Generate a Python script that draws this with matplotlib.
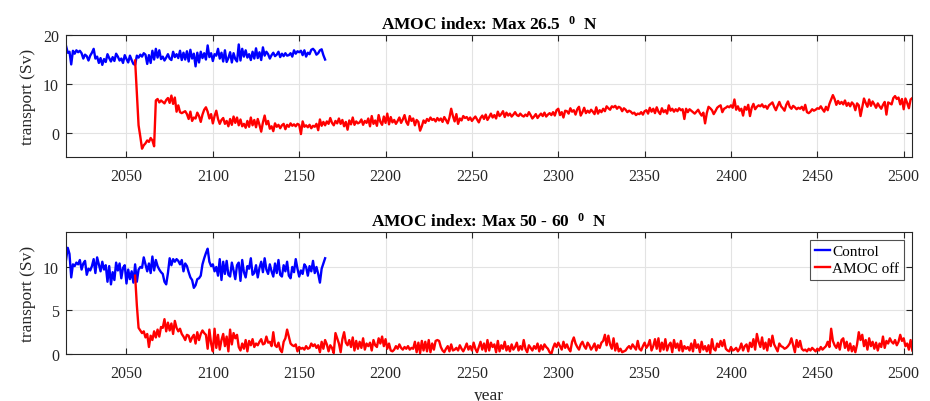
import numpy as np
import matplotlib
matplotlib.use('Agg')
import matplotlib.pyplot as plt

plt.rcParams['font.family'] = ['Liberation Serif', 'DejaVu Serif']
plt.rcParams['mathtext.default'] = 'regular'

# yearly values (Sv)
ctrl_start = 2015
off_start = 2055

ctrl_265 = [
    17.8, 16.4, 16.6, 14.0, 16.8, 16.2, 16.9, 16.5, 16.8, 16.3,
    15.2, 16.0, 15.7, 14.8, 15.8, 16.4, 17.2, 15.2, 15.6, 14.3,
    15.3, 13.9, 15.1, 14.5, 16.1, 15.3, 14.6, 15.5, 14.7, 16.2,
    15.6, 14.8, 15.2, 14.3, 15.9, 15.1, 14.4, 15.8, 14.9, 14.1,
    13.9, 15.8, 15.4, 16.0, 15.6, 16.3, 16.0, 14.1, 15.9, 14.3,
    16.8, 15.0, 17.2, 15.4, 16.9, 15.1, 15.6, 14.8, 15.4, 16.1,
    15.2, 14.9, 16.6, 15.5, 16.1, 15.3, 16.8, 14.9, 16.4, 15.0,
    16.7, 14.6, 17.0, 15.2, 16.2, 13.6, 16.4, 14.4, 16.6, 15.3,
    16.3, 15.0, 17.9, 15.5, 16.3, 14.7, 16.1, 15.8, 17.2, 15.2,
    16.4, 14.6, 16.9, 14.5, 15.3, 16.5, 14.4, 16.3, 15.1, 14.6,
    18.1, 14.8, 17.2, 15.6, 16.9, 15.4, 16.1, 14.9, 16.6, 15.2,
    17.3, 15.3, 16.5, 14.9, 17.5, 15.8, 16.6, 16.1, 15.2, 15.9,
    16.4, 15.7, 16.0, 16.6, 15.5, 16.2, 15.7, 16.3, 15.8, 15.9,
    16.3, 15.6, 16.9, 16.2, 16.7, 16.5, 16.8, 15.9, 16.9, 15.6,
    16.4, 16.1, 17.0, 17.2, 16.8, 16.0, 16.3, 16.9, 17.1, 15.9, 15.0,
]

off_265 = [
    14.8, 8.0, 1.5, -0.8, -3.3, -2.6, -2.2, -1.6, -1.9, -1.1,
    -1.6, -2.8, 6.6, 6.9, 6.2, 6.6, 6.3, 6.0, 6.7, 7.1,
    6.1, 7.6, 5.9, 7.2, 4.3, 5.6, 4.2, 4.0, 4.2, 4.4,
    3.8, 2.8, 4.3, 2.4, 3.1, 2.9, 4.1, 3.4, 2.2, 3.7,
    4.7, 5.2, 4.3, 2.9, 3.8, 1.9, 3.4, 4.5, 2.8, 1.8,
    2.6, 3.0, 1.8, 2.4, 1.3, 2.8, 1.6, 3.3, 2.0, 3.1,
    1.5, 2.7, 1.3, 1.8, 1.0, 2.4, 1.2, 3.1, 1.5, 2.6,
    1.1, 2.8, 1.6, 0.2, 2.1, 3.5, 1.7, 2.4, 0.8, 1.3,
    0.3, 1.9, 1.2, 1.6, 0.9, 1.5, 1.8, 0.7, 1.6, 1.2,
    1.9, 1.4, 1.7, 1.3, 1.8, 1.6, -0.3, 2.3, 1.2, 1.5,
    1.1, 1.6, 0.9, 1.4, 1.2, 1.8, 0.5, 2.7, 1.4, 2.2,
    1.5, 2.3, 1.8, 3.0, 2.0, 1.5, 2.4, 1.9, 2.9, 1.8,
    2.6, 1.3, 2.2, 0.6, 2.5, 1.7, 3.1, 1.6, 2.3, 1.9,
    2.1, 2.7, 1.6, 2.4, 2.0, 2.9, 1.3, 3.4, 1.8, 2.5,
    1.4, 3.6, 2.2, 1.6, 3.3, 2.0, 3.9, 1.7, 3.2, 2.1,
    2.6, 1.8, 2.4, 3.1, 2.0, 2.7, 3.6, 2.2, 1.6, 3.4,
    2.4, 2.9, 1.5, 2.6, 2.2, 0.4, 1.3, 2.5, 2.0, 2.8,
    2.4, 3.1, 2.6, 2.8, 2.3, 3.0, 2.5, 2.9, 2.2, 3.2,
    2.6, 1.9, 3.1, 4.9, 3.4, 2.3, 3.8, 1.8, 2.9, 2.5,
    3.4, 3.0, 3.2, 2.6, 3.1, 2.4, 2.9, 3.3, 2.7, 2.1,
    3.0, 3.5, 2.8, 3.7, 2.6, 3.2, 3.9, 3.1, 3.6, 2.9,
    4.3, 3.4, 3.8, 4.4, 3.2, 4.1, 3.5, 3.9, 3.3, 3.7,
    4.2, 3.6, 3.4, 3.9, 3.5, 3.3, 3.7, 3.4, 4.2, 3.6,
    2.9, 3.3, 3.8, 3.0, 3.5, 3.9, 3.4, 4.1, 3.3, 3.7,
    4.0, 3.6, 4.2, 3.5, 4.6, 4.9, 3.6, 4.2, 3.1, 4.5,
    4.4, 3.9, 5.0, 4.3, 4.6, 3.7, 4.8, 5.3, 3.5, 4.2,
    5.1, 4.0, 4.5, 4.1, 4.7, 4.3, 3.8, 5.2, 3.9, 4.6,
    4.2, 4.9, 4.4, 5.4, 5.0, 4.7, 5.4, 5.2, 5.5, 4.9,
    5.3, 5.1, 4.4, 5.0, 4.7, 4.2, 4.5, 4.3, 3.9, 4.1,
    3.6, 3.9, 3.8, 4.2, 3.7, 4.4, 4.6, 3.9, 5.1, 4.3,
    4.9, 4.0, 5.2, 4.3, 3.8, 5.0, 4.2, 4.6, 3.9, 5.6,
    4.5, 4.9, 4.3, 4.8, 4.4, 5.0, 4.6, 4.8, 2.8, 4.9,
    4.2, 4.8, 4.5, 4.2, 3.9, 4.3, 4.7, 4.0, 3.5, 4.1,
    1.9, 4.0, 5.3, 5.0, 4.6, 3.8, 4.4, 5.1, 5.4, 5.6,
    4.2, 4.9, 5.1, 5.4, 5.2, 5.6, 5.1, 6.8, 4.7, 5.4,
    4.5, 4.9, 3.5, 5.3, 4.7, 5.7, 3.4, 5.1, 5.9, 4.8,
    5.3, 5.6, 5.4, 5.8, 5.2, 5.5, 4.9, 5.6, 5.9, 6.2,
    5.3, 4.6, 5.5, 6.3, 5.4, 5.0, 4.5, 5.7, 6.4, 5.3,
    4.9, 5.5, 5.2, 4.8, 5.1, 4.9, 5.3, 4.6, 5.7, 4.2,
    4.0, 4.3, 4.8, 4.5, 4.7, 5.0, 4.9, 5.4, 4.8, 4.3,
    5.3, 4.6, 5.9, 6.8, 7.7, 6.9, 5.7, 6.5, 5.9, 6.3,
    5.8, 6.6, 5.5, 6.1, 5.4, 6.2, 5.8, 4.6, 6.0, 5.6,
    3.4, 5.2, 7.0, 6.1, 5.3, 6.8, 5.5, 6.4, 5.8, 5.1,
    6.0, 5.4, 4.9, 5.7, 6.3, 3.7, 6.2, 6.0, 5.8, 7.1,
    7.5, 6.9, 7.2, 5.8, 6.9, 4.8, 7.0, 6.1, 5.0, 6.8,
    7.1,
]

ctrl_5060 = [
    10.8, 12.2, 11.5, 8.8, 10.3, 10.1, 10.5, 10.3, 10.8, 9.7,
    10.4, 10.7, 9.1, 9.8, 9.6, 10.1, 10.9, 9.3, 11.1, 10.3,
    9.5, 10.6, 9.7, 10.2, 8.3, 10.1, 8.0, 9.4, 8.5, 10.5,
    9.6, 10.4, 8.7, 9.9, 10.2, 8.1, 9.7, 8.6, 9.5, 8.2,
    10.3, 8.3, 9.7, 10.0, 9.9, 11.1, 10.3, 9.5, 10.4, 9.3,
    11.2, 9.6, 10.8, 10.1, 9.7, 9.4, 9.2, 8.3, 8.0, 9.3,
    11.0, 10.2, 10.9, 10.6, 10.9, 10.7, 10.3, 10.8, 9.5, 10.4,
    10.1, 9.4, 8.8, 8.5, 7.6, 7.9, 8.6, 8.7, 9.0, 10.3,
    11.0, 11.6, 12.1, 10.6, 10.1, 10.3, 9.5, 10.0, 9.0, 10.9,
    8.5, 10.6, 9.2, 10.7, 9.1, 8.9, 10.5, 9.6, 8.6, 10.2,
    10.5, 8.4, 10.8, 9.4, 8.8, 10.1, 9.8, 11.0, 9.1, 9.3,
    10.2, 8.8, 9.9, 10.6, 9.4, 11.0, 9.7, 9.2, 10.3, 9.5,
    8.9, 10.4, 9.3, 10.8, 9.1, 8.9, 10.2, 9.5, 10.6, 9.0,
    8.7, 10.0, 9.4, 10.9, 9.8, 8.9, 9.6, 9.2, 10.3, 10.0,
    9.0, 10.1, 9.5, 10.7, 9.3, 10.0, 9.2, 8.2, 9.8, 10.4, 11.0,
]

off_5060 = [
    9.0, 5.6, 3.0, 2.7, 2.4, 2.6, 1.9, 2.3, 0.8, 2.1,
    1.6, 2.6, 1.9, 2.8, 2.0, 3.1, 3.0, 4.0, 2.6, 3.6,
    2.7, 3.5, 2.3, 3.8, 3.0, 2.6, 2.9, 2.3, 2.0, 1.6,
    2.2, 2.1, 1.4, 1.9, 2.2, 1.2, 2.5, 1.6, 2.3, 2.7,
    2.4, 2.2, 0.6, 2.8, 1.2, 0.3, 2.9, 0.7, 2.2, 0.5,
    1.6, 2.3, 0.9, 2.0, 0.3, 2.8, 1.1, 2.4, 1.8, 2.2,
    0.8, 0.4, 1.2, 0.6, 1.6, 0.3, 1.5, 1.0, 1.7, 0.8,
    1.2, 1.0, 1.4, 1.7, 1.1, 1.2, 2.0, 1.3, 1.4, 0.9,
    2.5, 1.0, 0.8, 1.3, 0.5, 0.2, 1.4, 1.8, 2.8, 2.0,
    1.2, 1.0, 0.9, 1.1, 0.3, 0.8, 0.6, 0.7, 0.5, 0.9,
    0.6, 0.7, 1.2, 0.9, 1.1, 0.7, 1.0, 0.2, 1.4, 0.6,
    1.6, 1.1, 0.3, 1.0, 0.7, 0.1, 2.4, 1.8, 1.2, 0.2,
    1.7, 2.5, 1.3, 1.0, 1.6, 0.8, 1.9, 0.4, 1.5, 0.6,
    1.4, 0.7, 1.8, 0.5, 1.2, 0.9, 1.3, 0.4, 1.6, 1.0,
    0.8, 1.8, 1.2, 2.0, 0.9, 1.7, 0.6, 1.2, 0.4, 0.3,
    0.5, 0.9, 0.6, 1.1, 0.7, 0.5, 0.8, 0.6, 0.9, 0.5,
    0.7, 0.6, 1.4, 0.2, 1.3, 0.1, 1.5, 0.4, 1.4, 0.3,
    1.6, 0.2, 1.2, 0.5, 1.5, 1.6, 1.5, 0.8, 0.4, 0.2,
    0.6, 0.9, 0.3, 1.1, 0.4, 0.5, 0.7, 0.4, 1.0, 0.6,
    0.3, 0.7, 1.2, 0.5, 0.9, 0.4, 1.3, 0.6, 0.2, 0.8,
    1.4, 0.5, 1.2, 0.3, 1.6, 0.4, 1.3, 0.8, 1.1, 0.2,
    1.5, 0.3, 1.0, 0.6, 1.4, 0.4, 0.9, 0.3, 1.1, 0.5,
    0.8, 1.3, 0.4, 0.9, 0.5, 1.6, 0.6, 0.2, 1.0, 0.7,
    0.4, 0.9, 0.6, 1.2, 0.3, 1.0, 0.5, 1.1, 0.8, 0.6,
    0.2, 0.0, 0.7, 1.2, 0.8, 1.3, 0.9, 0.5, 1.4, 0.7,
    1.1, 0.6, 0.3, 1.4, 1.9, 1.2, 0.8, 0.5, 1.1, 1.4,
    0.9, 0.6, 1.3, 1.0, 0.5, 0.8, 1.2, 0.4, 1.0, 0.7,
    1.3, 1.5, 2.2, 1.0, 2.1, 1.1, 0.6, 1.8, 0.4, 1.2,
    0.3, 0.6, 0.2, 0.3, 0.4, 0.7, 0.9, 0.6, 1.1, 0.8,
    0.5, 1.5, 0.6, 0.4, 0.9, 1.3, 0.7, 1.0, 1.6, 0.4,
    0.9, 1.7, 0.6, 1.8, 0.3, 1.3, 0.5, 1.7, 0.4, 1.0,
    1.3, 0.2, 1.6, 0.7, 1.2, 0.4, 1.5, 0.3, 0.9, 0.6,
    0.8, 0.4, 1.2, 0.3, 1.6, 0.7, 1.1, 0.2, 1.4, 0.5,
    0.9, 0.3, 1.0, 0.1, 1.7, 0.6, 0.4, 1.2, 0.8, 1.5,
    0.9, 1.6, 0.6, 0.4, 0.3, 0.8, 0.4, 0.5, 0.7, 0.3,
    0.6, 1.2, 0.4, 0.9, 1.1, 0.3, 1.3, 0.8, 1.7, 0.5,
    2.3, 1.4, 0.8, 1.9, 0.6, 1.3, 0.4, 1.7, 0.9, 2.1,
    1.1, 0.7, 0.3, 1.2, 0.9, 0.8, 0.6, 0.7, 0.9, 1.2,
    1.8, 1.0, 0.2, 1.6, 0.8, 1.5, 0.6, 0.4, 0.5, 0.3,
    0.6, 0.4, 0.7, 0.5, 0.3, 0.6, 0.4, 0.8, 0.5, 0.7,
    0.9, 1.4, 0.8, 2.9, 1.5, 1.0, 0.7, 1.3, 0.5, 1.6,
    1.8, 0.7, 1.4, 0.4, 1.2, 0.3, 0.9, 0.2, 1.1, 2.5,
    1.6, 2.2, 0.9, 1.6, 0.5, 1.8, 0.9, 1.4, 0.6, 1.3,
    0.4, 1.2, 0.8, 2.0, 0.7, 1.5, 1.2, 1.8, 1.4, 1.2,
    1.6, 1.0, 1.4, 2.2, 1.5, 1.8, 0.9, 1.2, 0.5, 1.6,
    0.4,
]

panels = [
    ('AMOC index: Max 26.5  $^{0}$  N', ctrl_265, off_265, (-5, 20), [0, 10, 20]),
    ('AMOC index: Max 50 - 60  $^{0}$  N', ctrl_5060, off_5060, (0, 14), [0, 5, 10]),
]

fig = plt.figure(figsize=(9.3, 4.02), dpi=100)
boxes = [[0.071, 0.607, 0.910, 0.303], [0.071, 0.117, 0.910, 0.303]]
axc = '#262626'

for i, (title, ctrl, off, ylim, yt) in enumerate(panels):
    ax = fig.add_axes(boxes[i])
    yc = np.arange(ctrl_start, ctrl_start + len(ctrl))
    yo = np.arange(off_start, off_start + len(off))
    ax.plot(yc, ctrl, color='#0000ff', lw=1.7, label='Control')
    ax.plot(yo, off, color='#ff0000', lw=1.7, label='AMOC off')
    ax.set_xlim(2015, 2505)
    ax.set_ylim(*ylim)
    ax.set_xticks(np.arange(2050, 2501, 50))
    ax.set_yticks(yt)
    ax.grid(True, color='#e3e3e3', lw=0.8)
    ax.set_axisbelow(True)
    ax.tick_params(direction='in', top=True, right=True, length=4, width=0.8,
                   colors=axc, labelsize=11.5)
    ax.tick_params(axis='x', pad=8)
    ax.tick_params(axis='y', pad=5)
    for s in ax.spines.values():
        s.set_color(axc)
        s.set_linewidth(0.8)
    ax.set_title(title, fontsize=12.5, fontweight='bold', pad=5)
    ax.set_ylabel('transport (Sv)', fontsize=12.5, color=axc, labelpad=5)
    if i == 1:
        ax.set_xlabel('year', fontsize=12.5, color=axc, labelpad=4)
        leg = ax.legend(loc='upper right', bbox_to_anchor=(0.990, 0.935), fontsize=11,
                        frameon=True, fancybox=False, handlelength=1.0,
                        handletextpad=0.15, borderpad=0.3, labelspacing=0.2,
                        borderaxespad=0)
        leg.get_frame().set_edgecolor('#262626')
        leg.get_frame().set_linewidth(0.8)

fig.savefig('out.png', dpi=100)
